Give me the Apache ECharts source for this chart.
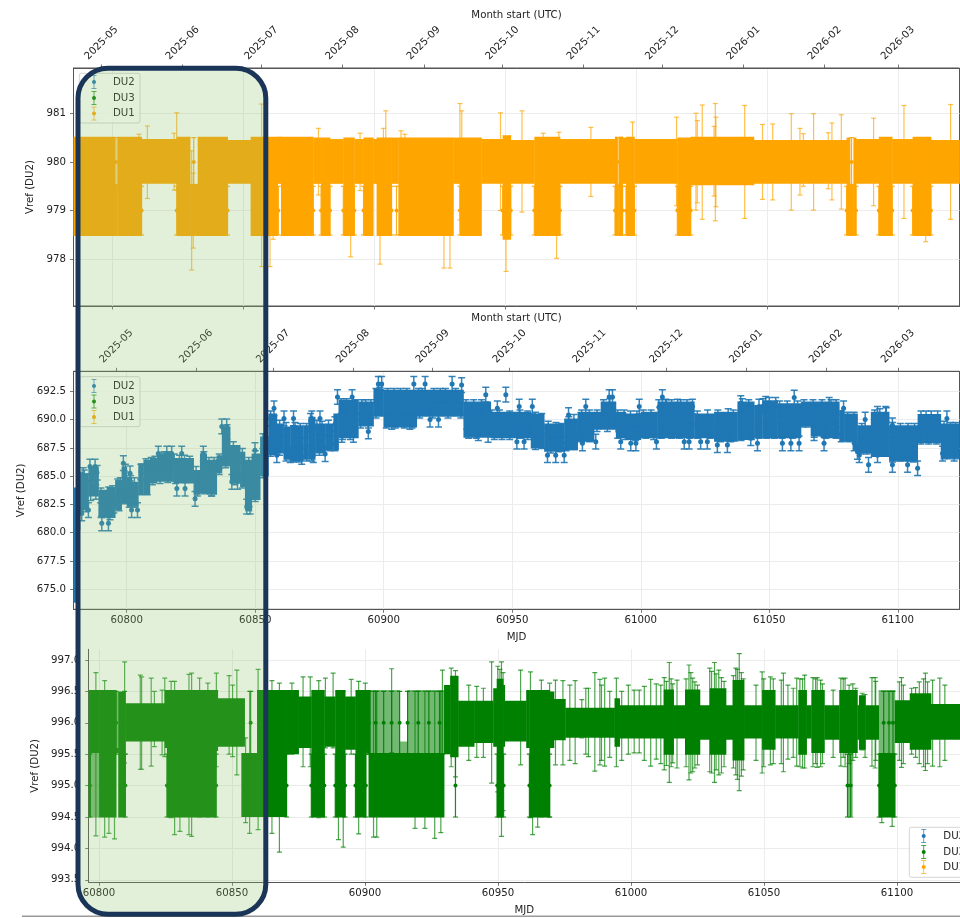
<!DOCTYPE html>
<html><head><meta charset="utf-8">
<script src="https://cdn.jsdelivr.net/npm/echarts@6/dist/echarts.min.js"></script>
<style>html,body{margin:0;padding:0;background:#fff}#c{width:960px;height:918px}</style>
</head><body><div id="c"></div>
<script>
const monthTicks=[60796,60827,60857,60888,60919,60949,60980,61010,61041,61072,61100];
const monthLabels=['2025-05','2025-06','2025-07','2025-08','2025-09','2025-10','2025-11','2025-12','2026-01','2026-02','2026-03'];
const mjdTicks=[60800,60850,60900,60950,61000,61050,61100];
const yTicksDU1=[978,979,980,981];
const yTicksDU2=[675,677.5,680,682.5,685,687.5,690,692.5];
const yTicksDU3=[993.5,994,994.5,995,995.5,996,996.5,997];
const legendNames=['DU2','DU3','DU1'];

// DU1: envelope blocks of the densely packed error bars [mjdStart, mjdEnd, low, high]
const du1Bands=[
[60785.3,60801.1,978.48,980.52],[60801.1,60802,978.48,979.55],[60802,60811.3,978.48,980.52],[60811.3,60824.7,979.55,980.47],
[60824.7,60829.8,978.48,980.52],[60829.8,60832.7,978.48,979.55],[60832.7,60844.1,978.48,980.52],[60844.1,60852.9,979.55,980.45],
[60852.9,60863.2,978.48,980.52],[60863.2,60864.5,979.55,980.52],[60864.5,60876.8,978.48,980.52],[60876.8,60879.8,979.55,980.5],
[60879.8,60883.2,978.48,980.5],[60883.2,60888.3,979.55,980.47],[60888.3,60892.5,978.48,980.5],[60892.5,60896,979.55,980.47],
[60896,60899.7,978.48,980.5],[60899.7,60901,979.55,980.47],[60901,60906.7,978.48,980.5],[60906.7,60909.3,979.55,980.5],
[60909.3,60930.3,978.48,980.5],[60930.3,60932.8,979.55,980.5],[60932.8,60941,978.48,980.5],[60941,60949.1,979.55,980.47],
[60949.1,60952.2,978.4,980.55],[60952.2,60961.2,979.55,980.45],[60961.2,60971,978.48,980.52],[60971,60992,979.55,980.47],
[60992,60992.7,978.48,980.52],[60992.7,60993.3,978.48,979.55],[60993.3,60994.9,978.48,980.52],[60994.9,60996.2,979.55,980.5],
[60996.2,60999.4,978.48,980.52],[60999.4,61015.8,979.55,980.47],[61015.8,61020.9,978.48,980.5],[61020.9,61045,979.52,980.52],
[61045,61080.4,979.55,980.45],[61080.4,61081.7,978.48,980.5],[61081.7,61083,978.48,979.55],[61083,61084,978.48,980.5],
[61084,61092.7,979.55,980.47],[61092.7,61097.8,978.48,980.52],[61097.8,61105.6,979.55,980.47],[61105.6,61112.6,978.48,980.52],
[61112.6,61123.5,979.55,980.45]];
// DU1: isolated error bars [mjd, low, high]
const du1Spikes=[
[60813.5,979.25,980.74],[60824.7,979.42,981.01],[60823.7,979.42,980.59],[60830.4,977.78,980.23],[60831,978.23,979.77],
[60857.1,977.85,981.19],[60860.3,977.85,980.5],[60861.5,978.41,980.5],[60878.8,979.32,980.69],[60891.1,978.05,980.3],
[60894.7,979.41,980.59],[60902.3,977.9,980.1],[60904.5,979.01,981.05],[60903.6,979.5,980.69],[60910.3,979.5,980.64],
[60911.8,979.5,980.57],[60926.7,977.82,979.5],[60929,977.82,979.5],[60932.8,978.81,981.2],[60933.5,978.8,981.05],
[60810.3,979.5,980.57],[60948.3,979,981.01],[60950.4,977.75,980.5],[60956.5,978.97,981.05],[60964.6,979.5,980.59],
[60969.7,978.02,979.8],[60970.6,979.5,980.61],[60982.8,979.29,980.71],[60998.7,979.5,980.82],[61015.5,979.1,980.92],
[61022.9,979.01,981],[61023.4,979.16,980.85],[61025.3,978.82,981.17],[61030.3,978.79,981.2],[61030.5,979.08,980.92],
[61029.8,979.3,980.73],[61041.5,978.84,981.16],[61048.3,979.23,980.77],[61052.2,979.22,980.78],[61059.3,979.01,980.99],
[61062.6,979.32,980.69],[61063.9,979.5,980.58],[61067.8,979.01,980.99],[61073.4,979.45,980.6],[61074.8,979.22,980.8],
[61078.4,979.03,980.97],[61090.7,979.1,980.9],[61102.3,978.84,981.16],[61110.6,978.36,979.5],[61120.1,978.82,981.18]];
// DU1: visible markers on block edges [mjd, value]
const du1Points=[
[60811.3,979],[60824.7,979],[60844.1,979],[60863.5,979],[60876.8,979],[60879.8,979],[60883.2,979],[60888.3,979],[60892.5,979],
[60896,979],[60906.7,979],[60908.6,979],[60932.8,979],[60949.1,979],[60952.2,979],[60961.2,979],[60971,979],[60992,979],
[60994.9,979],[60996.2,979],[60999.4,979],[61015.8,979],[61020.9,979],[61080.4,979],[61084,979],[61092.7,979],[61097.8,979],
[61105.6,979],[61112.6,979],[60801.5,980],[60831.2,980],[60860.5,980],[60992.9,980],[61082.3,980]];

// DU2: envelope blocks [mjdStart, mjdEnd, low, high]
const du2Bands=[
[60779.3,60780.5,673.8,684],[60780.3,60781.8,680.25,684.05],[60781.8,60785.1,682,685.25],[60785.1,60789,683.2,685.85],[60789,60792.2,681.4,683.8],
[60792.2,60795.5,681.3,684.05],[60795.5,60798,682,684.65],[60798,60800,682.6,685.85],[60800,60802,682.3,684.95],[60802,60804.5,682.3,684.5],
[60804.5,60806.5,683.35,686.15],[60806.5,60809,683.35,686.45],[60809,60811.7,684.35,686.6],[60811.7,60818.2,684.5,687],[60818.2,60826,684.35,686.6],
[60826,60828.5,683.35,685.55],[60828.5,60831.1,683.5,687],[60831.1,60835,683.35,686.45],[60835,60837,685.25,686.85],[60837,60840.2,685.85,689.4],
[60840.2,60844.1,684.35,687.75],[60844.1,60846,684.05,687.15],[60846,60848.6,682,686.45],[60848.6,60851.9,682.9,687],[60851.9,60855.1,685,688.5],
[60855.1,60858.4,686.85,690.55],[60858.4,60861,687,689.65],[60861,60863.6,686.45,689.4],[60863.6,60868.7,686.3,689.5],[60868.7,60870.7,686.45,689.5],
[60870.7,60873.3,686.45,690.25],[60873.3,60877.2,687,689.65],[60877.2,60880.4,687.3,689.65],[60880.4,60882.4,687.3,690.55],[60882.4,60890.1,688.35,691.75],
[60890.1,60896,689.4,691.6],[60896,60899.9,690.25,692.75],[60899.9,60912.8,689.3,692.65],[60912.8,60931,690.25,692.65],[60931,60941.6,688.4,691.6],
[60941.6,60957.2,688.35,690.7],[60957.2,60962.4,687.45,690.55],[60962.4,60970.2,687.15,689.65],[60970.2,60975.4,687.3,690.1],[60975.4,60981.8,688.05,690.7],
[60981.8,60984.4,689.1,690.7],[60984.4,60990.3,689.1,691.6],[60990.3,60994.2,688.35,690.7],[60994.2,61000,688.2,690.55],[61000,61006.5,688.35,690.7],
[61006.5,61020.8,688.35,691.6],[61020.8,61028.5,688.35,690.55],[61028.5,61037.6,688.05,690.7],[61037.6,61044.1,688.2,691.6],[61044.1,61047.3,688.35,691.3],
[61047.3,61053.2,688.35,691.7],[61053.2,61062.3,688.35,691.45],[61062.3,61066.1,689.4,691.6],[61066.1,61070,688.5,691.6],[61070,61077.2,688.35,691.6],
[61077.2,61079.1,688.05,690.85],[61079.1,61082.4,688.05,690.55],[61082.4,61084.3,687.3,690.55],[61084.3,61089.5,687,689.5],[61089.5,61096.6,686.7,690.7],
[61096.6,61107.7,686.3,689.5],[61107.7,61116.7,687.9,690.5],[61116.7,61123.9,686.6,689.65]];
// DU2: points standing proud of the blocks [mjd, value]; each has the same error below
const du2Err=0.65;
const du2Points=[
[60785.7,685.85],[60787.7,685.85],[60783.1,685.1],[60790.3,680.83],[60792.9,680.83],[60785.1,682],[60782.5,681.7],[60798.7,686.15],[60801.3,685.25],
[60801.9,682],[60804.2,682],[60812.3,687],[60815.6,687],[60817.5,687],[60821.4,687],[60819.5,683.9],[60822.7,683.9],[60826.6,683],[60829.8,687],
[60833.1,683.9],[60837,689.4],[60838.9,689.4],[60840.9,684.5],[60843.1,684.5],[60846.7,682.3],[60848,682.3],[60849.9,687.3],[60857.3,691],
[60861.2,690.1],[60864.9,690.1],[60872,690.1],[60875.2,690.1],[60858.4,686.85],[60863.6,686.85],[60868.1,686.7],[60872.6,686.85],[60877.2,686.95],
[60882,692],[60887.7,692],[60883.7,688.65],[60888.2,688.65],[60894,688.95],[60897.9,693.15],[60899.2,693.15],[60903.1,689.8],[60910.2,689.8],
[60911.7,693.15],[60916.1,693.15],[60918,690],[60921.3,690],[60926.6,693.15],[60930.3,693.05],[60932.3,689.8],[60936.8,688.8],
[60939.7,692.2],[60947.5,692.2],[60944.2,691],[60940.6,688.65],[60951.8,688.05],[60952.7,691.15],[60954.6,688.05],[60957.8,691.15],[60963.7,686.85],
[60966.9,686.85],[60970.2,686.85],[60971.9,690.4],[60977.3,687.9],[60982.5,688.05],[60978.6,691.15],[60987.7,692],[60989,692],[60992.2,688.05],
[60996.1,687.9],[60998.1,687.9],[60999.4,691.15],[61006.1,688.05],[61008.4,692],[61009.7,691.15],[61014.3,691.15],[61016.9,688.05],[61020.1,691.15],
[61018.8,688.05],[61023.3,688.05],[61025.9,688.05],[61029.8,687.75],[61033.7,687.75],[61038.9,691.45],[61042.8,688.35],[61046,691.15],[61045.4,687.9],
[61048.6,691.4],[61055.1,687.9],[61059.7,691.95],[61058.4,687.9],[61061.6,687.9],[61067.4,688.8],[61073.3,691.3],[61078.9,691],[61071.3,687.9],
[61084.3,687.15],[61087.3,690],[61088.6,686],[61092.1,690.5],[61095.3,690.5],[61085,686.85],[61092.1,686.85],[61097.9,689.5],[61097.9,686],
[61103.8,686],[61107.7,685.7],[61119.1,690.1],[61117.4,687],[61121.9,687]];
// DU2: points forming the ragged upper and lower edge of the blocks [mjd, value]
const du2EdgePoints=[
[60782,684.7],[60783.5,684.9],[60784.5,684.5],[60786.5,685.2],[60788.5,685.3],[60790,683.3],[60791,683],[60793,683.4],[60794.5,683.5],[60796.5,684.1],[60797.5,684.2],[60799.5,685.4],
[60801.5,684.4],[60803,684.2],[60805.5,685.4],[60807.5,685.9],[60809.5,686],[60811,686.1],[60813,686.4],[60814.5,686.5],[60816.5,686.5],[60818.5,686.3],[60820.5,686.2],[60822.5,686.2],
[60824.5,686.1],[60827,685.2],[60830,686.5],[60832,686],[60834,686],[60836,686.3],[60839,688.9],[60841.5,687.4],[60845,686.8],[60847.5,686],[60850,686.6],[60853,688.1],[60856,690.1],
[60859.5,689.3],[60862,689.1],[60865.5,689.1],[60867.5,689],[60870,689],[60871.5,689.9],[60874,689.3],[60876,689.2],[60878.5,689.3],[60881,689.6],[60883.5,691.2],[60885.5,691.2],
[60889,691.1],[60891.5,691.1],[60893,691.1],[60895,691.1],[60897,692.1],[60898.5,692.2],[60901.5,692.1],[60904,692.1],[60906.5,692.1],[60909,692.1],[60913.5,692.1],[60915,692.1],
[60919.5,692.1],[60922,692.1],[60924,692.1],[60928,692.1],[60932,691.1],[60935,691.1],[60938,691.1],
[60782,682.6],[60784,682.5],[60786,683.5],[60788,683.6],[60790,682],[60791.5,682],[60793.5,681.8],[60795,682.4],[60797,682.6],[60799,683.2],[60801,682.9],[60803,682.9],[60805.5,684],
[60808,684],[60810,684.9],[60813,685],[60816,685.1],[60819,685],[60823,685.1],[60827.5,683.9],[60830,684.1],[60833,683.9],[60836,685.8],[60838.5,686.4],[60842,684.9],[60845,684.6],
[60847.5,682.6],[60850,683.4],[60853,685.5],[60856,687.4],[60859.5,687.5],[60862,687],[60865,686.9],[60867,686.9],[60870,687],[60872,687],[60875,687.5],[60879,687.9],[60881,687.9],
[60884,688.9],[60887,688.9],[60891,689.9],[60894,689.9],[60897,690.8],[60901,689.9],[60904.5,689.9],[60908,689.9],[60911,689.9],[60914,690.8],[60919,690.8],[60925,690.8],[60930,690.8],
[60933,689],[60936,689],[60942,690.2],[60945,690.2],[60949,690.1],[60953,690.2],[60956,690.1],[60959,690],[60961.5,689.9],[60964,689.2],[60967,689.1],[60969,689],[60972,689.6],
[60974,689.8],[60977,690.2],[60980,690.2],[60983,690.2],[60985.5,691.1],[60988,691.2],[60991,690.2],[60993.5,690.2],[60996,690.1],[60998.5,690.1],[61001,690.2],[61004,690.2],
[61007,691.1],[61010,691.1],[61012,691.1],[61015.5,691.1],[61018,691.1],[61022,690.1],[61026,690.2],[61030,690.2],[61034,690.3],[61036,690.2],[61039.5,691.2],[61042,691.1],
[61047.5,691.2],[61050,691.3],[61052.5,691.3],[61054,691],[61057,691],[61061,691],[61063.5,691.1],[61067,691.1],[61070.5,691.1],[61074,691.1],[61076,691.1],[61080.5,690],[61083,690],
[61086,689],[61091,690.2],[61093,690.3],[61095.5,690.4],[61098,689.1],[61101,689],[61104,689],[61106.5,689],[61109,690.1],[61111,690.1],[61113,690.1],[61115.5,690.1],[61118,689.2],[61120.5,689.1],[61122.5,689.1],
[60943,688.9],[60946,688.9],[60949,688.9],[60953,689],[60956,688.9],[60959,688],[60961.5,688.1],[60965,687.7],[60968,687.8],[60971,687.9],[60974,688],[60977,688.7],[60980,688.7],
[60983,689.6],[60987,689.6],[60991,689],[60994,688.9],[60998,688.8],[61002,689],[61005,688.9],[61008,689],[61012,689],[61015,689],[61019,689],[61022,689],[61027,689],[61031,688.7],
[61035,688.7],[61039,688.8],[61043,688.9],[61046,689],[61049,689],[61052,689],[61055,689],[61059,689],[61063,690],[61065,690],[61067.5,689.1],[61072,689],[61076,689],[61078,688.7],
[61081,688.7],[61083,687.9],[61085.5,687.6],[61088,687.6],[61091,687.4],[61094,687.4],[61098,686.9],[61101,687],[61104,687],[61106,686.9],[61109,688.5],[61112,688.5],[61115,688.5],
[61118,687.2],[61120,687.2],[61122.5,687.2]];

// DU3: envelope blocks [mjdStart, mjdEnd, low, high]
const du3Bands=[
[60796.1,60796.8,994.49,996.52],[60796.8,60800,995.52,996.52],[60800,60806.4,994.49,996.52],[60806.4,60807.2,995.52,995.6],[60807.2,60809.9,994.49,996.5],[60809.9,60824.7,995.7,996.31],[60824.7,60825.5,995.6,996.52],
[60825.5,60844,994.49,996.52],[60844,60844.6,995.55,996.52],[60844.6,60854.7,995.62,996.39],[60853.5,60859.4,994.5,995.52],[60859.4,60870.5,994.5,996.52],
[60870.5,60875,995.5,996.52],[60875,60879.8,995.6,996.42],[60879.8,60884.7,994.49,996.52],[60884.7,60888.8,995.62,996.42],[60888.8,60892.5,994.49,996.52],
[60892.5,60896.4,995.57,996.42],[60896.4,60900.3,994.49,996.52],[60900.3,60902,995.52,996.52],[60901.3,60929.7,994.49,995.52],[60929.7,60932,995.5,996.6],
[60932,60935,995.45,996.75],[60935,60941,995.62,996.35],[60941,60948.2,995.68,996.35],[60948.2,60949.5,995.62,996.55],[60949.5,60951.9,994.49,996.7],
[60951.9,60952.5,995.62,996.6],[60952.5,60960.6,995.7,996.35],[60960.6,60961.8,995.6,996.52],[60961.8,60969.4,994.49,996.52],[60969.4,60971,995.6,996.5],
[60971,60975.3,995.72,996.38],[60975.3,60993.8,995.76,996.24],[60993.8,60995.7,995.62,996.39],[60995.7,61012.3,995.75,996.28],[61012.3,61016,995.49,996.53],
[61016,61020.3,995.75,996.28],[61020.3,61025.9,995.49,996.53],[61025.9,61029.6,995.73,996.28],[61029.6,61035.7,995.49,996.55],[61035.7,61038.2,995.73,996.28],
[61038.2,61042.5,995.4,996.68],[61042.5,61049.3,995.75,996.28],[61049.3,61054.2,995.57,996.52],[61054.2,61062.9,995.75,996.28],[61062.9,61066,995.49,996.52],
[61066,61067.8,995.75,996.28],[61067.8,61072.7,995.52,996.52],[61072.7,61078.3,995.73,996.28],[61078.3,61085.1,995.52,996.52],[61085.1,61085.7,995.73,996.28],
[61085.7,61088.1,995.57,996.44],[61088.1,61093.1,995.73,996.28],[61093.1,61099.2,994.49,995.52],[61099.2,61104.8,995.68,996.36],[61104.8,61112.8,995.57,996.47],
[61112.8,61123.7,995.73,996.3]];
// DU3: blocks of thinner, sparser bars drawn paler [mjdStart, mjdEnd, low, high]
const du3PaleBands=[[60796.8,60800,994.49,995.52],[60806.4,60807.2,995.6,996.5],[60902,60913,995.52,996.52],[60915.8,60929.7,995.52,996.52],[61093.1,61099.2,995.52,996.52],[61081.4,61083.2,994.51,995.52],[60913,60915.8,995.5,995.7]];
// DU3: isolated error bars [mjd, low, high]
const du3Spikes=[
[60798.8,994.2,996.8],[60802.1,994.18,996.67],[60803.7,994.24,996.5],[60805.8,994.15,996.5],[60809.6,995.36,996.97],[60815.5,995.26,996.76],[60816,995.26,996.73],
[60819.6,995.31,996.71],[60820.8,995.62,996.5],[60823.7,995.49,996.52],[60824.7,995.46,996.71],[60827.1,994.49,996.66],[60828.4,994.22,996.66],[60830.4,994.27,996.5],
[60833.8,994.22,996.77],[60834.8,994.19,996.79],[60837.8,994.5,996.71],[60840.9,994.5,996.63],[60844.1,995.3,996.79],[60848.9,995.5,996.75],[60850.2,995.46,996.6],
[60851.8,995.17,996.84],[60855.1,994.41,995.76],[60856.6,994.24,996.5],[60859.8,994.3,996.85],[60865,994.24,996.67],[60867.8,993.94,996.63],[60872.5,995.5,996.63],
[60876.7,995.3,996.73],[60879.4,995.3,996.73],[60882.6,994.49,996.67],[60885.1,995.6,996.71],[60888,995.6,996.79],[60890,994.14,996.5],[60891.8,994.02,996.5],
[60894.8,995.5,996.69],[60897.6,994.23,996.66],[60900.1,995.5,996.63],[60903.2,994.18,996.5],[60904.4,994.18,996.5],[60910,995.52,996.86],[60918.8,994.32,996.5],
[60922.5,994.32,996.5],[60926.2,994.16,996.5],[60928.5,994.25,996.5],[60929.1,995.5,996.84],[60932.4,995.3,996.87],[60934,995.14,996.83],
[60947.6,995.04,996.97],[60951.3,994.19,996.97],[60958.5,995.33,996.84],[60962.2,994.49,996.81],[60963,994.22,996.5],[60964.9,994.34,996.5],[60966.3,994.5,996.68],
[60969.4,994.5,996.63],[60971.6,995.33,996.68],[60974.4,995.33,996.67],[60979,995.35,996.67],[60981.5,995.76,996.37],[60984,995.46,996.55],[60986.4,995.23,996.8],
[60988.3,995.33,996.69],[60990.1,995.31,996.71],[60994.5,995.3,996.71],[61001.2,995.52,996.52],[61003.1,995.52,996.52],[61007.4,995.31,996.69],[61014.4,995.05,996.96],
[61017.3,995.28,996.68],[61021.8,995.09,996.92],[61023.2,995.22,996.71],[61029.6,995.22,996.87],[61031.4,995.05,996.96],[61033,995.17,996.84],[61039.4,995.17,996.87],
[61040.7,994.92,997.1],[61049.3,995.2,996.81],[61052.4,995.33,996.73],[61057.3,995.22,996.79],[61062.3,995.31,996.71],[61065.3,995.28,996.76],[61070,995.29,996.72],
[61078.9,995.31,996.71],[61080.5,995.3,996.71],[61086.9,995.57,996.47],[61090.6,995.31,996.72],[61091.8,995.28,996.72],[61094.3,994.41,995.5],[61098.2,994.35,995.5],
[61101.7,995.29,996.72],[61110.7,995.24,996.79],[61113.4,995.31,996.68],[61116.1,995.3,996.71],
[61012.5,995.25,996.72],[61013.3,995.32,996.66],[61015.1,995.3,996.7],[61015.7,995.36,996.62],[60977,995.4,996.6],[60983,995.5,996.55],[60988.9,995.4,996.6],[60992,995.45,996.5],
[60996.5,995.4,996.5],[60999,995.5,996.6],[61005,995.4,996.58],[61009.5,995.42,996.62],[61011.2,995.35,996.6],[61020.7,995.3,996.7],[61022.5,995.2,996.8],[61024,995.28,996.65],[61025,995.33,996.6],
[61030.3,995.2,996.82],[61032,995.25,996.78],[61034,995.2,996.72],[61035,995.3,996.66],[61038.5,995.28,996.75],[61040,995.1,996.85],[61041.5,995.15,996.8],[61042.2,995.25,996.7],
[61047,995.4,996.6],[61049.9,995.3,996.7],[61053.5,995.35,996.7],[61056.5,995.35,996.68],[61059,995.42,996.6],[61061,995.45,996.55],[61063.5,995.3,996.7],[61064.5,995.28,996.7],
[61068.4,995.3,996.72],[61069.4,995.35,996.7],[61071.3,995.3,996.68],[61072,995.35,996.62],[61076,995.45,996.52],[61079.8,995.45,996.7],[61082,995.35,996.6],[61083.4,995.4,996.62],
[61084.5,995.45,996.55],[61088,995.45,996.45],[61092,995.4,996.66],[61100.9,995.4,996.65],[61102.4,995.35,996.6],[61105.5,995.5,996.55],[61107,995.45,996.56],[61108.4,995.35,996.65],
[61110,995.3,996.7],[61111.5,995.35,996.65],[61118,995.4,996.6],[60939,995.4,996.6],[60942,995.45,996.58],[60944.5,995.45,996.55],[60949.9,994.9,996.9],[60950.7,994.5,996.85],[60951.9,994.6,996.8]];
// DU3: visible markers on block edges [mjd, value]
const du3Points=[
[60796.5,995],[60809.9,995],[60825.5,995],[60844,995],[60870.5,995],[60879.8,995],[60884.7,995],[60888.8,995],[60892.5,995],[60896.4,995],[60900.3,995],
[60934,995],[60949.7,995],[60952.1,995],[60961.8,995],[60969.4,995],[61081.4,995],[61082.6,995],[61093.3,995],[61099.2,995],
[60806.4,996],[60809.6,996],[60857,996],[60901.4,996],[60904,996],[60907,996],[60910,996],[60913,996],[60916,996],[60920,996],[60924,996],[60928,996],
[61095,996],[61097,996],[61098.5,996]];

const C={blue:'#1f77b4',green:'#008000',orange:'#ffa500'};
const spine='#555', gridCol='#ececec', txt='#222', fs=10.2, font='"DejaVu Sans"';

function bandRender(col,op){return function(p,api){
  const a=api.coord([api.value(0),api.value(3)]),b=api.coord([api.value(0)+api.value(1)-api.value(0),api.value(2)]);
  return {type:'rect',shape:{x:a[0],y:a[1],width:b[0]-a[0]+0.4,height:b[1]-a[1]},style:{fill:col,opacity:op}};
};}
function barChildren(x,lo,hi,col,op,cap,dot,lw){
  const k=[{type:'line',shape:{x1:x,y1:lo,x2:x,y2:hi},style:{stroke:col,lineWidth:lw,opacity:op}},
    {type:'line',shape:{x1:x-cap,y1:hi,x2:x+cap,y2:hi},style:{stroke:col,lineWidth:lw,opacity:op}},
    {type:'line',shape:{x1:x-cap,y1:lo,x2:x+cap,y2:lo},style:{stroke:col,lineWidth:lw,opacity:op}}];
  if(dot)k.push({type:'circle',shape:{cx:x,cy:(lo+hi)/2,r:dot},style:{fill:col}});
  return k;
}
function spikeRender(col){return function(p,api){
  const a=api.coord([api.value(0),api.value(2)]),b=api.coord([api.value(0),api.value(1)]);
  return {type:'group',children:barChildren(a[0],b[1],a[1],col,0.7,2.5,0,1.2)};
};}
function pointRender(col,err,r,cap,lw){return function(p,api){
  const a=api.coord([api.value(0),api.value(1)+err]),b=api.coord([api.value(0),api.value(1)-err]);
  return {type:'group',children:barChildren(a[0],b[1],a[1],col,0.9,cap,r,lw)};
};}
function bandSeries(name,d,ax,col,op){return {name,type:'custom',xAxisIndex:ax,yAxisIndex:ax,clip:true,silent:true,animation:false,data:d,
  encode:{x:[0,1],y:[2,3]},renderItem:bandRender(col,op)};}
function spikeSeries(name,d,ax,col){return {name,type:'custom',xAxisIndex:ax,yAxisIndex:ax,clip:true,silent:true,animation:false,data:d,
  encode:{x:0,y:[1,2]},renderItem:spikeRender(col)};}
function pointSeries(name,d,ax,col,err,r,cap,lw){return {name,type:'custom',xAxisIndex:ax,yAxisIndex:ax,clip:true,silent:true,animation:false,data:d,
  encode:{x:0,y:1},renderItem:pointRender(col,err,r,cap,lw)};}

const ranges=[[60785.3,61123.5,977.04,981.93],[60779.3,61124,673.23,694.27],[60796.1,61123.7,993.46,997.17]];
const grids=[{left:73.5,top:68,width:886,height:238,show:true,borderColor:spine,borderWidth:1,backgroundColor:'transparent'},
  {left:73.5,top:371.3,width:886,height:238,show:true,borderColor:spine,borderWidth:1,backgroundColor:'transparent'},
  {left:88.7,top:649.3,width:886,height:233}];
const axLine={show:true,lineStyle:{color:spine,width:1}}, tick={show:true,length:3.5,lineStyle:{color:spine,width:0.8}};
const xAxes=[],yAxes=[];
[0,1,2].forEach(i=>{
  const r=ranges[i];
  xAxes.push({type:'value',gridIndex:i,position:'bottom',min:r[0],max:r[1],
    name:i?'MJD':'',nameLocation:'middle',nameGap:23,nameTextStyle:{fontSize:fs,color:txt,fontFamily:font},
    axisLine:axLine,axisTick:Object.assign({customValues:mjdTicks},tick),
    axisLabel:i?{show:true,customValues:mjdTicks,fontSize:fs,color:txt,fontFamily:font,margin:6,formatter:v=>String(v)}:{show:false},
    splitLine:{show:true,lineStyle:{color:gridCol,width:1}}});
  yAxes.push({type:'value',gridIndex:i,min:r[2],max:r[3],name:'Vref (DU2)',nameLocation:'middle',nameGap:[31.5,41.5,43.5][i],
    nameTextStyle:{fontSize:fs,color:txt,fontFamily:font},axisLine:axLine,
    axisTick:Object.assign({customValues:[yTicksDU1,yTicksDU2,yTicksDU3][i]},tick),
    axisLabel:{customValues:[yTicksDU1,yTicksDU2,yTicksDU3][i],fontSize:fs,color:txt,fontFamily:font,margin:[7.5,7.5,8.5][i],
      formatter:i?(v=>v.toFixed(1)):(v=>String(v))},
    splitLine:{show:true,lineStyle:{color:gridCol,width:1}}});
});
// month-start axes on top of the first two panels
[0,1].forEach(i=>{
  const r=ranges[i];
  xAxes.push({type:'value',gridIndex:i,position:'top',min:r[0],max:r[1],name:'Month start (UTC)',nameLocation:'middle',nameGap:48,
    nameTextStyle:{fontSize:fs,color:txt,fontFamily:font},axisLine:axLine,axisTick:Object.assign({customValues:monthTicks},tick),
    axisLabel:{customValues:monthTicks,rotate:-45,align:'center',verticalAlign:'middle',margin:25,fontSize:fs,color:txt,fontFamily:font,
      formatter:v=>monthLabels[monthTicks.indexOf(v)]},splitLine:{show:false}});
});

function legendBlock(x,y,w,h,hx,tx,rows){
  const kids=[{type:'rect',shape:{x,y,width:w,height:h,r:2},style:{fill:'rgba(255,255,255,0.8)',stroke:'#d5d5d5',lineWidth:1},z:50}];
  const cols=[C.blue,C.green,C.orange];
  rows.forEach((ry,i)=>{
    barChildren(hx,ry+6.5,ry-6.5,cols[i],0.7,2.5,2,1).forEach(k=>{k.z=51;kids.push(k);});
    kids.push({type:'text',z:51,style:{x:tx,y:ry,text:legendNames[i],fill:txt,fontSize:fs,fontFamily:font,verticalAlign:'middle',align:'left'}});
  });
  return kids;
}
const graphic=[].concat(
  legendBlock(79.3,73.3,60.7,49.7,94,113,[82,98,113.5]),
  legendBlock(79.8,376.7,60.2,50,94,113,[386,401.5,417]),
  legendBlock(909.3,827.3,60,50,923.7,943.3,[836,852,867]),
  [{type:'line',z:60,shape:{x1:22,y1:916.3,x2:960,y2:916.3},style:{stroke:'#9a9a9a',lineWidth:1.5}},
   {type:'rect',z:100,shape:{x:78,y:68.3,width:187.8,height:846,r:30},style:{fill:'rgba(139,196,104,0.25)',stroke:'#1a3558',lineWidth:5}}]
);

const chart=echarts.init(document.getElementById('c'),null,{renderer:'canvas'});
chart.setOption({animation:false,backgroundColor:'#fff',textStyle:{fontFamily:font},grid:grids,xAxis:xAxes,yAxis:yAxes,graphic,
 series:[
  spikeSeries('DU1',du1Spikes,0,C.orange),bandSeries('DU1',du1Bands,0,C.orange,1),pointSeries('DU1',du1Points,0,C.orange,0.5,2,2.5,1.2),
  bandSeries('DU2',du2Bands,1,C.blue,1),pointSeries('DU2',du2Points,1,C.blue,du2Err,2.5,3.5,1.5),pointSeries('DU2',du2EdgePoints,1,C.blue,du2Err,2.4,3.5,1.5),
  spikeSeries('DU3',du3Spikes,2,C.green),bandSeries('DU3',du3PaleBands,2,C.green,0.55),bandSeries('DU3',du3Bands,2,C.green,1),pointSeries('DU3',du3Points,2,C.green,0.5,2,2.5,1.2)
 ]});
</script></body></html>
